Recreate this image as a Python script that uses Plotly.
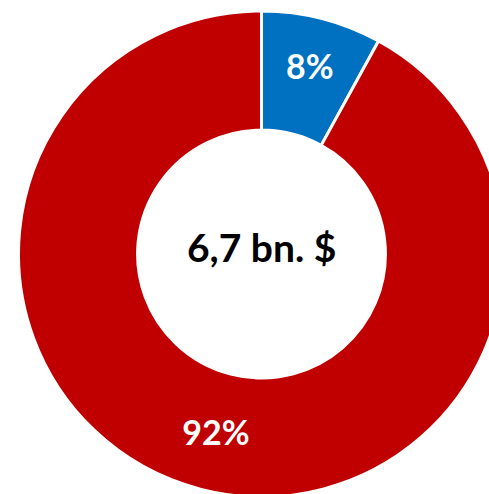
import plotly.graph_objects as go

# Shares of the total (percent)
labels = ["Segment A", "Segment B"]
shares = [8, 92]
colors = ["#0070C0", "#C00000"]
total_label = "6,7 bn. $"

FONT = "Lato, 'Open Sans', sans-serif"

fig = go.Figure(
    go.Pie(
        labels=labels,
        values=shares,
        hole=0.51,
        sort=False,
        direction="clockwise",
        rotation=0,
        marker=dict(colors=colors, line=dict(color="white", width=3)),
        texttemplate="%{value}%",
        textposition="inside",
        insidetextorientation="horizontal",
        textfont=dict(family=FONT, size=34, color="white", weight="bold"),
        hoverinfo="label+percent",
        domain=dict(x=[0, 1], y=[1 - 497 / 523, 1 - 11 / 523]),
        showlegend=False,
    )
)

fig.add_annotation(
    text=total_label,
    x=0.5,
    y=1 - 247 / 523,
    xref="paper",
    yref="paper",
    showarrow=False,
    font=dict(family=FONT, size=39, color="black", weight="bold"),
)

fig.update_layout(
    width=523,
    height=523,
    margin=dict(l=0, r=0, t=0, b=0),
    paper_bgcolor="white",
    plot_bgcolor="white",
)

fig.write_html(
    "out.html",
    post_script=(
        "document.documentElement.style.overflow='hidden';"
        "document.body.style.overflow='hidden';"
        "document.body.style.margin='0';"
    ),
)
